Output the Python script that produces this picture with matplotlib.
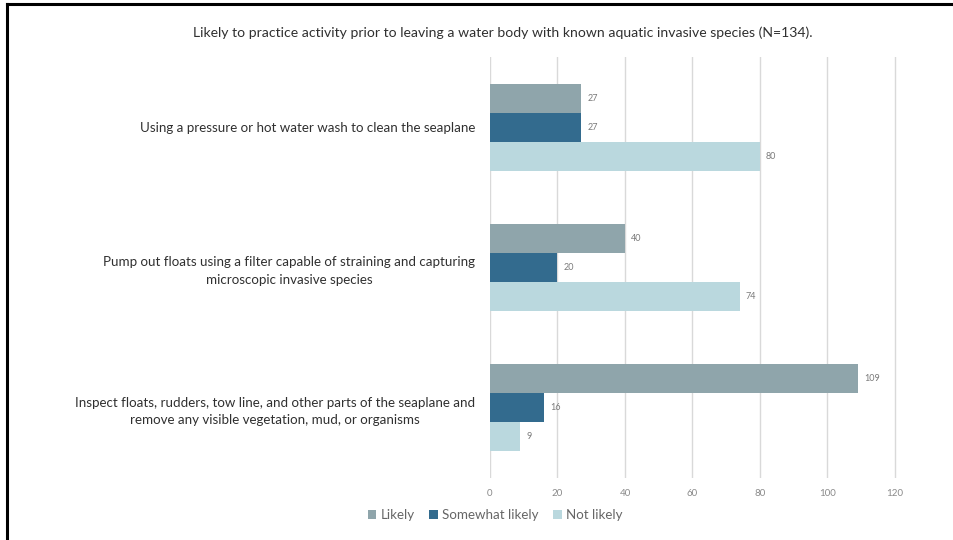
import matplotlib.pyplot as plt
import numpy as np
from matplotlib.lines import Line2D

plt.rcParams['font.family'] = ['Lato', 'DejaVu Sans']

categories = [
    "Using a pressure or hot water wash to clean the seaplane",
    "Pump out floats using a filter capable of straining and capturing\nmicroscopic invasive species",
    "Inspect floats, rudders, tow line, and other parts of the seaplane and\nremove any visible vegetation, mud, or organisms",
]
series = ["Likely", "Somewhat likely", "Not likely"]
likely = [27, 40, 109]
somewhat = [27, 20, 16]
not_likely = [80, 74, 9]
colors = ["#8FA5AB", "#336B8E", "#BAD8DE"]
ticks = [0, 20, 40, 60, 80, 100, 120]

fig = plt.figure(figsize=(9.54, 5.4), dpi=100)
ax = fig.add_axes([490/954, 1-478/540, 408/954, 421/540])

y = np.arange(len(categories))
h = 0.207
for i, (vals, c, name) in enumerate(zip([likely, somewhat, not_likely], colors, series)):
    pos = y + (i - 1) * h
    ax.barh(pos, vals, height=h, color=c, label=name, zorder=2)
    for p, v in zip(pos, vals):
        ax.text(v + 1.8, p, str(v), va="center", ha="left", fontsize=6.5, color="#7a7a7a")

ax.set_ylim(2.5, -0.5)
ax.set_xlim(0, 120.9)
ax.set_xticks(ticks)
ax.set_xticklabels([str(t) for t in ticks], fontsize=7, color="#8a8a8a")
ax.tick_params(axis="x", length=0, pad=8)
ax.set_yticks(y)
ax.set_yticklabels(categories, fontsize=9.6, color="#303030", linespacing=1.5)
ax.tick_params(axis="y", length=0, pad=10.5)
for lbl in ax.get_yticklabels():
    lbl.set_horizontalalignment("right")
    lbl.set_multialignment("center")
ax.grid(axis="x", color="#d9d9d9", linewidth=1, zorder=0)
for s in ax.spines.values():
    s.set_visible(False)

fig.text(503/954, 1-33/540, "Likely to practice activity prior to leaving a water body with known aquatic invasive species (N=134).",
         ha="center", va="center", fontsize=10.05, color="#303030")

fig.legend(loc="center", bbox_to_anchor=(495/954, 1-515/540), ncol=3, frameon=False,
           fontsize=9.6, handlelength=0.65, handleheight=0.65, handletextpad=0.3,
           columnspacing=1.1, labelcolor="#666666")

# frame lines on top and left
fig.add_artist(Line2D([7/954, 1], [1-4/540, 1-4/540], color="black", linewidth=2.2))
fig.add_artist(Line2D([7/954, 7/954], [0, 1-4/540], color="black", linewidth=2.2))

fig.savefig("out.png", dpi=100)
